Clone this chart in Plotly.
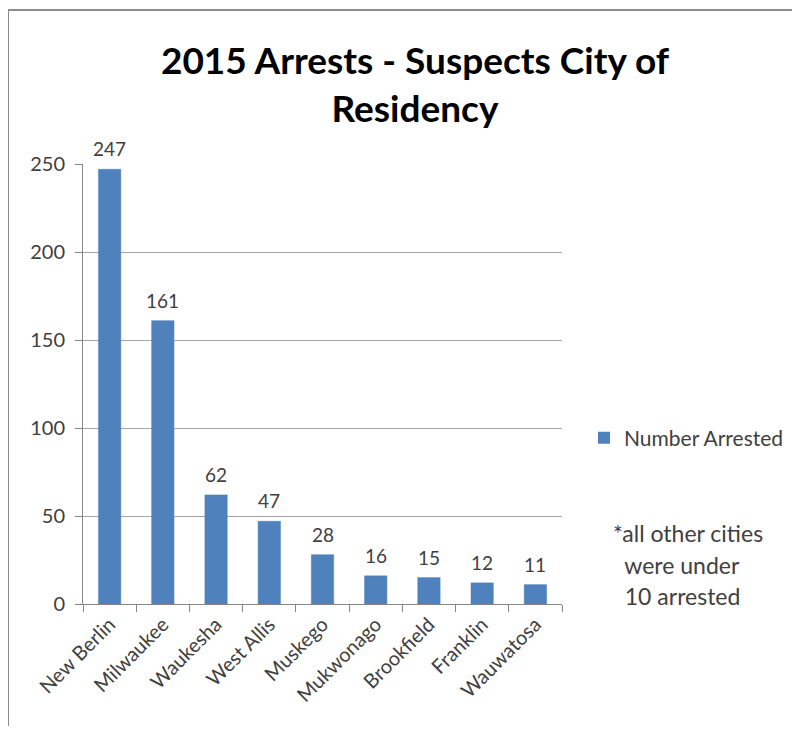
import plotly.graph_objects as go

cities = ["New Berlin", "Milwaukee", "Waukesha", "West Allis", "Muskego",
          "Mukwonago", "Brookfield", "Franklin", "Wauwatosa"]
arrested = [247, 161, 62, 47, 28, 16, 15, 12, 11]
series_name = "Number Arrested"
title_text = "2015 Arrests - Suspects City of<br>Residency"
note_lines = ["*all other cities", "\u00a0\u00a0were under", "\u00a0\u00a010 arrested"]
y_ticks = [0, 50, 100, 150, 200, 250]

FONT = "Lato"
BAR = "#4F81BD"
TXT = "#404040"

W, H = 784, 718
L, R, T, B = 75, 230, 156, 122
PW, PH = W - L - R, H - T - B


def px(x):
    return (x - L) / PW


def py(y):
    return (H - B - y) / PH


fig = go.Figure()
fig.add_trace(go.Bar(
    x=cities, y=arrested, name=series_name,
    marker=dict(color=BAR, line=dict(color="#4A7EBB", width=0.5)),
    width=0.42,
    cliponaxis=False, showlegend=False,
))
fig.add_trace(go.Scatter(
    x=[None], y=[None], mode="markers", name=series_name,
    marker=dict(symbol="square", size=13, color=BAR),
))

# data labels placed on the data scale, a little above each bar
for c, v in zip(cities, arrested):
    fig.add_annotation(x=c, y=v, text=str(v), xref="x", yref="y",
                       yanchor="bottom", yshift=7, showarrow=False,
                       font=dict(family=FONT, size=19, color=TXT))

fig.update_layout(
    width=W, height=H,
    paper_bgcolor="white", plot_bgcolor="white",
    margin=dict(l=L, r=R, t=T, b=B, autoexpand=False),
    font=dict(family=FONT, color=TXT),
    title=dict(text=title_text, x=407 / W, xanchor="center", y=1 - 66 / H, yanchor="middle",
               font=dict(family=FONT, size=37, color="#000000", weight="bold")),
    showlegend=True,
    legend=dict(x=px(576), y=py(430), xanchor="left", yanchor="middle",
                font=dict(family=FONT, size=21, color=TXT),
                itemsizing="constant", itemwidth=30, bgcolor="rgba(0,0,0,0)"),
)
fig.update_xaxes(
    type="category", tickangle=-45, tickfont=dict(family=FONT, size=20, color=TXT),
    showline=True, linecolor="#868686", linewidth=1,
    ticks="outside", tickson="boundaries", ticklen=7, tickcolor="#868686",
    showgrid=False,
)
fig.update_yaxes(
    range=[0, 250], tickvals=y_ticks, tickfont=dict(family=FONT, size=20, color=TXT),
    showgrid=True, gridcolor="#A6A6A6", gridwidth=1,
    showline=True, linecolor="#868686", linewidth=1,
    ticks="outside", ticklen=7, tickcolor="#868686", zeroline=False,
    ticklabelstandoff=6,
)

for i, line in enumerate(note_lines):
    fig.add_annotation(
        text=line, xref="paper", yref="paper", x=px(603), y=py(525 + i * 31.5),
        xanchor="left", yanchor="middle", showarrow=False, align="left",
        font=dict(family=FONT, size=23, color=TXT),
    )

# chart frame (top and left edges visible)
fig.add_shape(type="line", xref="paper", yref="paper",
              x0=px(0), x1=px(W), y0=py(2), y1=py(2),
              line=dict(color="#8C8C8C", width=2))
fig.add_shape(type="line", xref="paper", yref="paper",
              x0=px(0), x1=px(0), y0=py(2), y1=py(H),
              line=dict(color="#8C8C8C", width=2))

fig.write_html("out.html")
